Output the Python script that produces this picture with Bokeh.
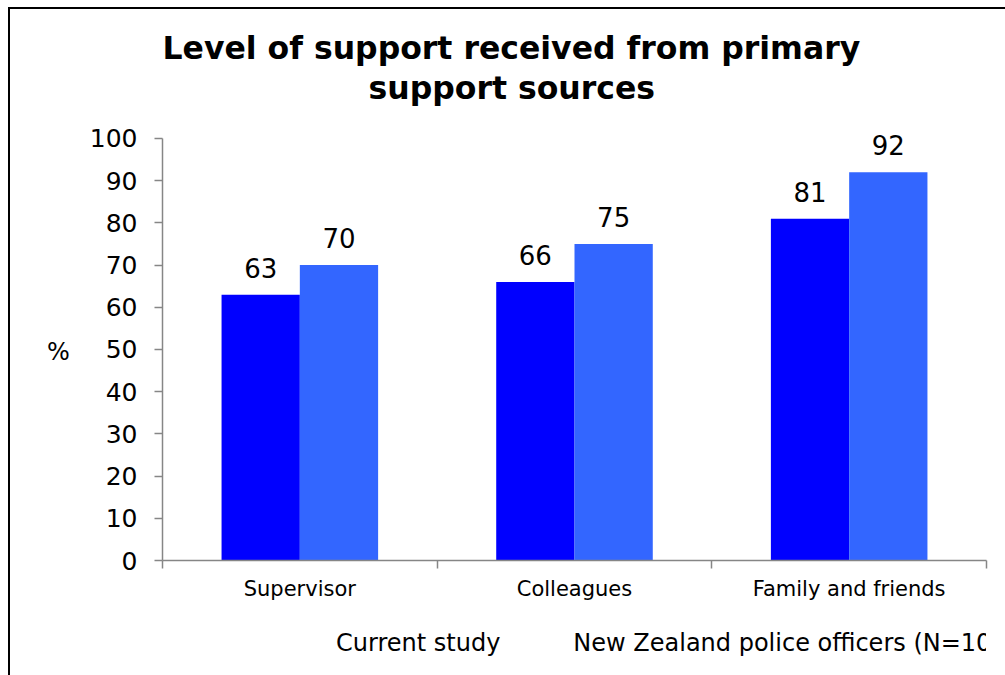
from bokeh.plotting import figure
from bokeh.layouts import column
from bokeh.models import Range1d, FixedTicker, Title, Legend, LegendItem, ColumnDataSource
from bokeh.core.properties import value
from bokeh.embed import file_html
from bokeh.resources import INLINE

# ---- data ----
categories = ["Supervisor", "Colleagues", "Family and friends"]
current_study = [63, 66, 81]
nz_police = [70, 75, 92]
series_names = ["Current study", "New Zealand police officers (N=102)"]
y_ticks = [0, 10, 20, 30, 40, 50, 60, 70, 80, 90, 100]
title_lines = ["Level of support received from primary", "support sources"]
y_label = "%"

FONT = "DejaVu Sans"
DARK = "#0000FF"
LIGHT = "#3366FF"
AXIS_GRAY = "#868686"

n = len(categories)
bar_w = 0.285
x_cur = [i + 0.5 - bar_w / 2 for i in range(n)]
x_nz = [i + 0.5 + bar_w / 2 for i in range(n)]

src_cur = ColumnDataSource(dict(x=x_cur, top=current_study, lab=[str(v) for v in current_study]))
src_nz = ColumnDataSource(dict(x=x_nz, top=nz_police, lab=[str(v) for v in nz_police]))

# frame extends a little above 100 so the top value label is not clipped;
# the axis line itself stops at 100 (bounds)
p = figure(frame_width=824, frame_height=451, x_range=Range1d(0, n), y_range=Range1d(0, 106.87),
           output_backend="svg", toolbar_location=None,
           min_border_left=152, min_border_right=19, min_border_top=100, min_border_bottom=60)
p.outline_line_color = None
p.xgrid.visible = False
p.ygrid.visible = False
p.background_fill_color = "white"
p.border_fill_color = "white"

r1 = p.vbar(x="x", top="top", width=bar_w, source=src_cur, fill_color=DARK, line_color=None)
r2 = p.vbar(x="x", top="top", width=bar_w, source=src_nz, fill_color=LIGHT, line_color=None)

for src in (src_cur, src_nz):
    p.text(x="x", y="top", text="lab", source=src, text_align="center",
           text_baseline="alphabetic", y_offset=-27, text_font=value(FONT),
           text_font_size="26px", text_color="black")

# x axis
xa = p.xaxis[0]
xa.ticker = FixedTicker(ticks=[i + 0.5 for i in range(n)], minor_ticks=list(range(n + 1)))
xa.major_label_overrides = {i + 0.5: c for i, c in enumerate(categories)}
xa.major_tick_in = 0
xa.major_tick_out = 0
xa.major_tick_line_color = None
xa.minor_tick_in = 0
xa.minor_tick_out = 8
xa.minor_tick_line_color = AXIS_GRAY
xa.minor_tick_line_width = 1.5
xa.axis_line_color = AXIS_GRAY
xa.axis_line_width = 1.5
xa.major_label_standoff = 8
xa.major_label_text_font = FONT
xa.major_label_text_font_size = "21px"
xa.major_label_text_color = "black"

# y axis
ya = p.yaxis[0]
ya.ticker = FixedTicker(ticks=y_ticks, minor_ticks=[])
ya.bounds = (y_ticks[0], y_ticks[-1])
ya.major_tick_in = 0
ya.major_tick_out = 8
ya.major_tick_line_color = AXIS_GRAY
ya.major_tick_line_width = 1.5
ya.axis_line_color = AXIS_GRAY
ya.axis_line_width = 1.5
ya.major_label_standoff = 17
ya.major_label_text_font = FONT
ya.major_label_text_font_size = "25px"
ya.major_label_text_color = "black"
ya.axis_label = "\n" + y_label   # leading empty line lowers "%" to mid-height of 0..100
ya.axis_label_orientation = "horizontal"
ya.axis_label_standoff = 17
ya.axis_label_text_font = FONT
ya.axis_label_text_font_size = "24px"
ya.axis_label_text_font_style = "normal"
ya.axis_label_text_color = "black"

# title: p.title is the outer line, the added Title sits next to the frame
title_kw = dict(align="left", vertical_align="middle", text_font=FONT, text_font_style="bold",
                text_font_size="31.5px", text_color="black")
p.title.text = title_lines[0]
p.title.offset = 0
p.title.standoff = 0
for k, v in title_kw.items():
    setattr(p.title, k, v)
p.add_layout(Title(text=title_lines[1], offset=206, standoff=5, **title_kw), "above")

# ---- legend strip: a small axis-less figure below the chart ----
lg = figure(width=995, height=55, x_range=Range1d(0, 1), y_range=Range1d(0, 1),
            output_backend="svg", toolbar_location=None,
            x_axis_location=None, y_axis_location=None,
            min_border_left=0, min_border_right=0, min_border_top=0, min_border_bottom=0)
lg.outline_line_color = None
lg.xgrid.visible = False
lg.ygrid.visible = False
lg.background_fill_color = "white"
lg.border_fill_color = "white"
k1 = lg.vbar(x=[], top=[], width=bar_w, fill_color=DARK, line_color=None)
k2 = lg.vbar(x=[], top=[], width=bar_w, fill_color=LIGHT, line_color=None)

legend = Legend(items=[LegendItem(label=series_names[0], renderers=[k1]),
                       LegendItem(label=series_names[1], renderers=[k2])],
                orientation="horizontal", location=(152, 18), padding=2, margin=0,
                spacing=51, glyph_width=18, glyph_height=18, label_standoff=4,
                label_text_font=FONT, label_text_font_size="24px", label_text_color="black",
                border_line_color=None, background_fill_alpha=0)
lg.add_layout(legend)

page = column(p, lg, spacing=0)
page.styles = {"margin-left": "8px", "margin-top": "7px",
               "border-left": "2px solid black", "border-top": "2px solid black"}

open("out.html", "w").write(file_html(page, INLINE))
